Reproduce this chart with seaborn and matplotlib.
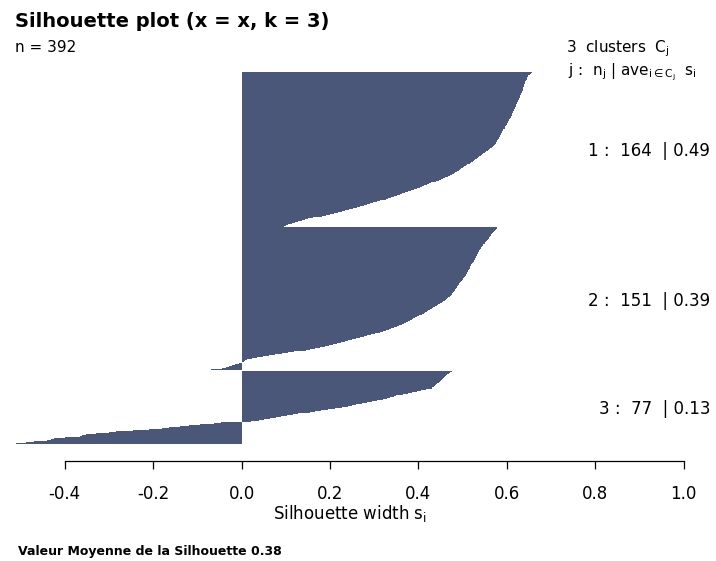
import numpy as np
import pandas as pd
import matplotlib
matplotlib.use("Agg")
import matplotlib.pyplot as plt
import seaborn as sns

# largeurs de silhouette s_i, triées par cluster
sil_c1 = [0.657, 0.655, 0.653, 0.651, 0.649, 0.648, 0.647, 0.646, 0.645, 0.643,
          0.642, 0.641, 0.641, 0.640, 0.639, 0.638, 0.637, 0.637, 0.636, 0.636,
          0.635, 0.634, 0.634, 0.633, 0.632, 0.631, 0.630, 0.629, 0.628, 0.627,
          0.626, 0.625, 0.624, 0.623, 0.622, 0.621, 0.620, 0.619, 0.618, 0.617,
          0.616, 0.615, 0.615, 0.614, 0.613, 0.612, 0.611, 0.610, 0.609, 0.607,
          0.606, 0.605, 0.603, 0.602, 0.601, 0.600, 0.598, 0.597, 0.596, 0.595,
          0.594, 0.592, 0.591, 0.590, 0.589, 0.588, 0.587, 0.585, 0.584, 0.583,
          0.582, 0.580, 0.579, 0.578, 0.576, 0.575, 0.574, 0.572, 0.571, 0.570,
          0.567, 0.563, 0.560, 0.557, 0.554, 0.550, 0.547, 0.544, 0.541, 0.538,
          0.535, 0.532, 0.529, 0.526, 0.523, 0.519, 0.516, 0.513, 0.510, 0.507,
          0.504, 0.501, 0.497, 0.494, 0.491, 0.487, 0.484, 0.481, 0.477, 0.472,
          0.467, 0.461, 0.456, 0.451, 0.446, 0.440, 0.435, 0.429, 0.424, 0.419,
          0.413, 0.408, 0.403, 0.396, 0.390, 0.383, 0.377, 0.371, 0.364, 0.358,
          0.351, 0.345, 0.339, 0.332, 0.326, 0.320, 0.313, 0.306, 0.298, 0.291,
          0.283, 0.276, 0.268, 0.261, 0.252, 0.244, 0.235, 0.227, 0.218, 0.210,
          0.201, 0.191, 0.181, 0.171, 0.161, 0.151, 0.143, 0.136, 0.128, 0.121,
          0.114, 0.106, 0.100, 0.095]

sil_c2 = [0.579, 0.577, 0.575, 0.573, 0.571, 0.569, 0.567, 0.565, 0.564, 0.562,
          0.561, 0.559, 0.557, 0.556, 0.554, 0.552, 0.551, 0.549, 0.547, 0.546,
          0.544, 0.542, 0.541, 0.540, 0.538, 0.537, 0.536, 0.535, 0.533, 0.532,
          0.531, 0.530, 0.529, 0.528, 0.527, 0.525, 0.524, 0.523, 0.521, 0.520,
          0.519, 0.518, 0.517, 0.516, 0.514, 0.513, 0.512, 0.511, 0.510, 0.509,
          0.507, 0.505, 0.504, 0.502, 0.501, 0.499, 0.498, 0.496, 0.495, 0.493,
          0.492, 0.490, 0.488, 0.487, 0.485, 0.484, 0.482, 0.481, 0.479, 0.477,
          0.476, 0.474, 0.471, 0.469, 0.467, 0.465, 0.462, 0.460, 0.456, 0.453,
          0.449, 0.445, 0.442, 0.438, 0.434, 0.431, 0.427, 0.423, 0.419, 0.416,
          0.412, 0.408, 0.405, 0.401, 0.397, 0.393, 0.389, 0.386, 0.382, 0.377,
          0.372, 0.367, 0.362, 0.356, 0.351, 0.346, 0.339, 0.333, 0.326, 0.320,
          0.314, 0.307, 0.301, 0.293, 0.285, 0.276, 0.268, 0.259, 0.251, 0.242,
          0.234, 0.225, 0.216, 0.208, 0.199, 0.190, 0.178, 0.167, 0.156, 0.145,
          0.133, 0.119, 0.105, 0.091, 0.076, 0.062, 0.049, 0.036, 0.023, 0.012,
          0.009, 0.005, 0.002, -0.005, -0.015, -0.022, -0.029, -0.036, -0.045, -0.057,
          -0.070]

sil_c3 = [0.476, 0.472, 0.469, 0.466, 0.462, 0.460, 0.459, 0.458, 0.456, 0.454,
          0.451, 0.449, 0.446, 0.443, 0.440, 0.437, 0.435, 0.432, 0.430, 0.418,
          0.406, 0.396, 0.386, 0.376, 0.365, 0.357, 0.350, 0.344, 0.336, 0.329,
          0.320, 0.306, 0.295, 0.284, 0.272, 0.260, 0.250, 0.240, 0.228, 0.212,
          0.196, 0.180, 0.167, 0.154, 0.140, 0.128, 0.116, 0.103, 0.090, 0.078,
          0.065, 0.052, 0.040, 0.022, -0.047, -0.062, -0.095, -0.118, -0.140, -0.165,
          -0.180, -0.210, -0.245, -0.255, -0.285, -0.300, -0.330, -0.352, -0.360, -0.365,
          -0.400, -0.425, -0.432, -0.440, -0.470, -0.488, -0.510]

cluster_ids = [1, 2, 3]
cluster_n = [164, 151, 77]
cluster_ave = [0.49, 0.39, 0.13]
ave_total = 0.38
n_obs = 392
x_ticks = [-0.4, -0.2, 0.0, 0.2, 0.4, 0.6, 0.8, 1.0]
x_ticklabels = ["-0.4", "-0.2", "0.0", "0.2", "0.4", "0.6", "0.8", "1.0"]

BAR_COLOR = "#4a5779"

sns.set_style("white")
plt.rcParams["font.family"] = ["DejaVu Sans"]
plt.rcParams["mathtext.fontset"] = "dejavusans"
plt.rcParams["text.color"] = "black"

# une barre par observation, demi-barre d'espace entre les clusters
pos = []
centers = []
start = 0.0
for vals in (sil_c1, sil_c2, sil_c3):
    pos.extend(start + np.arange(len(vals)) + 0.5)
    centers.append(start + len(vals) / 2)
    start += len(vals) + 0.5

df = pd.DataFrame({"s": sil_c1 + sil_c2 + sil_c3, "pos": pos})

fig = plt.figure(figsize=(7.16, 5.61), dpi=100)
ax = fig.add_axes([0, 1 - 461 / 561, 1, 401 / 561])

sns.barplot(data=df, x="s", y="pos", orient="h", native_scale=True,
            width=1.0, color=BAR_COLOR, saturation=1, errorbar=None,
            linewidth=0, antialiased=False, ax=ax)

ax.set_xlim(-0.5464, 1.0735)
ax.set_ylim(411.2, -12.36)
ax.set_xlabel("")
ax.set_ylabel("")
ax.set_yticks([])

for side in ["left", "top", "right"]:
    ax.spines[side].set_visible(False)
ax.spines["bottom"].set_bounds(-0.4, 1.0)
ax.spines["bottom"].set_color("black")
ax.spines["bottom"].set_linewidth(0.9)

ax.set_xticks(x_ticks)
ax.set_xticklabels(x_ticklabels)
ax.tick_params(axis="x", bottom=True, direction="out", length=5.8, width=0.9,
               pad=11.5, labelsize=12, colors="black")

# étiquettes des clusters : j : n_j | moyenne
for cid, n, ave, c in zip(cluster_ids, cluster_n, cluster_ave, centers):
    ax.text(1.06, c, f"{cid} :  {n}  | {ave:.2f}", ha="right",
            va="center_baseline", fontsize=12, color="black")

fig.text(15 / 716, 1 - 27.3 / 561, "Silhouette plot (x = x, k = 3)",
         fontsize=14, fontweight="bold", va="baseline")
fig.text(15 / 716, 1 - 51.7 / 561, f"n = {n_obs}", fontsize=11, va="baseline")
fig.text(566 / 716, 1 - 52 / 561, f"{len(cluster_ids)}  clusters  C$_\\mathrm{{j}}$",
         fontsize=11, va="baseline")
fig.text(568 / 716, 1 - 75 / 561,
         r"j :  n$_\mathrm{j}$ | ave$_{\mathrm{i}\in\mathrm{C_j}}$  s$_\mathrm{i}$",
         fontsize=11, va="baseline")
fig.text(350 / 716, 1 - 519.5 / 561, r"Silhouette width s$_\mathrm{i}$",
         ha="center", va="baseline", fontsize=12)
fig.text(18 / 716, 1 - 555 / 561,
         f"Valeur Moyenne de la Silhouette {ave_total:.2f}",
         fontsize=9, fontweight="bold", va="baseline")

fig.savefig("out.png", dpi=100)
